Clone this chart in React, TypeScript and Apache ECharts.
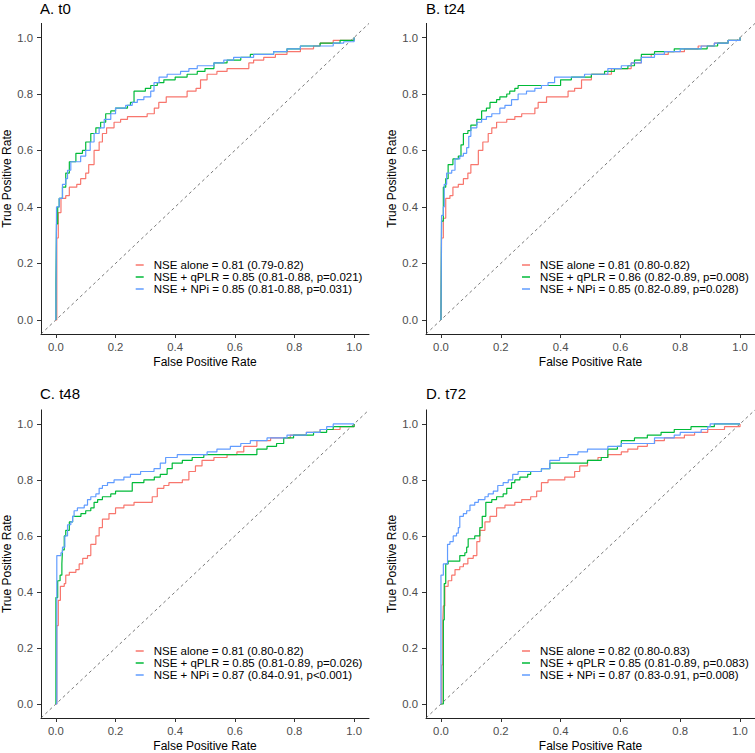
import React, { useEffect, useRef } from "react";
import * as echarts from "echarts";

const FONT = "'Liberation Sans', Arial, Helvetica, sans-serif";
const COLORS = ["#F8766D", "#00BA38", "#619CFF"];
const tickValues = [0, 0.2, 0.4, 0.6, 0.8, 1.0];
const panelTitles = ["A. t0", "B. t24", "C. t48", "D. t72"];
const xAxisTitle = "False Positive Rate";
const yAxisTitle = "True Positive Rate";

const legendA = [
  "NSE alone = 0.81 (0.79-0.82)",
  "NSE + qPLR = 0.85 (0.81-0.88, p=0.021)",
  "NSE + NPi = 0.85 (0.81-0.88, p=0.031)",
];
const legendB = [
  "NSE alone = 0.81 (0.80-0.82)",
  "NSE + qPLR = 0.86 (0.82-0.89, p=0.008)",
  "NSE + NPi = 0.85 (0.82-0.89, p=0.028)",
];
const legendC = [
  "NSE alone = 0.81 (0.80-0.82) ",
  "NSE + qPLR = 0.85 (0.81-0.89, p=0.026)",
  "NSE + NPi = 0.87 (0.84-0.91, p<0.001)",
];
const legendD = [
  "NSE alone = 0.82 (0.80-0.83)",
  "NSE + qPLR = 0.85 (0.81-0.89, p=0.083)",
  "NSE + NPi = 0.87 (0.83-0.91, p=0.008)",
];

// ROC points [FPR, TPR]
const A_alone = [[0,0],[0.003,0.29],[0.008,0.38],[0.017,0.43],[0.033,0.44],[0.045,0.47],[0.07,0.48],[0.083,0.50],[0.10,0.52],[0.11,0.55],[0.128,0.60],[0.145,0.63],[0.156,0.66],[0.17,0.68],[0.195,0.70],[0.217,0.71],[0.24,0.72],[0.306,0.73],[0.33,0.75],[0.345,0.77],[0.37,0.79],[0.42,0.79],[0.44,0.81],[0.47,0.82],[0.485,0.85],[0.507,0.87],[0.54,0.88],[0.574,0.89],[0.63,0.89],[0.647,0.91],[0.663,0.92],[0.697,0.93],[0.736,0.94],[0.775,0.95],[0.82,0.96],[0.864,0.97],[0.886,0.98],[0.93,0.99],[1,1]];
const A_qplr = [[0,0],[0,0.13],[0.002,0.34],[0.006,0.40],[0.011,0.43],[0.022,0.47],[0.033,0.52],[0.045,0.56],[0.067,0.59],[0.089,0.60],[0.10,0.63],[0.117,0.66],[0.134,0.68],[0.15,0.70],[0.167,0.73],[0.184,0.74],[0.2,0.75],[0.24,0.76],[0.25,0.77],[0.262,0.81],[0.30,0.82],[0.318,0.83],[0.34,0.84],[0.362,0.85],[0.40,0.86],[0.44,0.87],[0.474,0.88],[0.50,0.89],[0.53,0.91],[0.574,0.92],[0.62,0.93],[0.652,0.94],[0.73,0.95],[0.775,0.96],[0.82,0.97],[0.886,0.98],[0.953,0.99],[1,1]];
const A_npi = [[0,0],[0.002,0.40],[0.011,0.43],[0.022,0.48],[0.033,0.50],[0.039,0.53],[0.05,0.56],[0.067,0.56],[0.083,0.58],[0.10,0.60],[0.115,0.63],[0.128,0.66],[0.145,0.68],[0.162,0.71],[0.184,0.73],[0.2,0.75],[0.234,0.76],[0.256,0.77],[0.273,0.78],[0.295,0.79],[0.318,0.81],[0.329,0.84],[0.346,0.86],[0.373,0.87],[0.418,0.88],[0.446,0.89],[0.474,0.90],[0.53,0.91],[0.563,0.92],[0.596,0.93],[0.663,0.94],[0.73,0.95],[0.775,0.96],[0.82,0.97],[0.93,0.98],[0.965,0.985],[1,1]];

const B_alone = [[0,0],[0.002,0.29],[0.008,0.36],[0.016,0.43],[0.03,0.44],[0.04,0.47],[0.058,0.48],[0.075,0.50],[0.09,0.52],[0.10,0.55],[0.125,0.60],[0.14,0.63],[0.158,0.66],[0.17,0.68],[0.186,0.70],[0.22,0.71],[0.247,0.72],[0.27,0.73],[0.297,0.73],[0.314,0.75],[0.325,0.77],[0.353,0.79],[0.40,0.79],[0.425,0.81],[0.447,0.82],[0.47,0.85],[0.503,0.87],[0.547,0.87],[0.57,0.89],[0.614,0.89],[0.636,0.91],[0.67,0.93],[0.703,0.94],[0.76,0.95],[0.814,0.96],[0.86,0.97],[0.914,0.98],[0.96,0.99],[1,1]];
const B_qplr = [[0,0],[0.002,0.35],[0.008,0.47],[0.016,0.50],[0.024,0.55],[0.04,0.57],[0.058,0.58],[0.067,0.62],[0.075,0.66],[0.09,0.67],[0.10,0.69],[0.12,0.71],[0.136,0.74],[0.152,0.75],[0.164,0.77],[0.186,0.78],[0.197,0.79],[0.22,0.80],[0.23,0.81],[0.247,0.82],[0.258,0.83],[0.38,0.83],[0.40,0.85],[0.436,0.86],[0.503,0.87],[0.547,0.88],[0.58,0.89],[0.625,0.90],[0.647,0.92],[0.67,0.94],[0.714,0.95],[0.78,0.96],[0.836,0.96],[0.89,0.97],[0.925,0.98],[0.96,0.99],[1,1]];
const B_npi = [[0,0],[0.002,0.37],[0.008,0.40],[0.011,0.48],[0.019,0.52],[0.036,0.53],[0.047,0.57],[0.063,0.58],[0.075,0.59],[0.086,0.61],[0.093,0.65],[0.10,0.68],[0.12,0.70],[0.136,0.71],[0.152,0.72],[0.17,0.73],[0.197,0.75],[0.214,0.76],[0.236,0.78],[0.258,0.80],[0.286,0.81],[0.314,0.82],[0.336,0.83],[0.358,0.84],[0.38,0.86],[0.425,0.86],[0.48,0.87],[0.547,0.87],[0.558,0.89],[0.603,0.90],[0.636,0.91],[0.67,0.93],[0.714,0.94],[0.747,0.95],[0.80,0.96],[0.87,0.97],[0.914,0.98],[0.96,0.99],[1,1]];

const C_alone = [[0,0],[0.003,0.28],[0.008,0.37],[0.015,0.42],[0.028,0.43],[0.033,0.46],[0.045,0.47],[0.067,0.48],[0.078,0.50],[0.09,0.52],[0.106,0.53],[0.117,0.57],[0.134,0.60],[0.145,0.63],[0.156,0.66],[0.178,0.68],[0.20,0.70],[0.228,0.71],[0.262,0.72],[0.30,0.72],[0.323,0.74],[0.34,0.77],[0.362,0.78],[0.379,0.79],[0.424,0.80],[0.446,0.83],[0.468,0.85],[0.49,0.87],[0.53,0.88],[0.574,0.89],[0.607,0.90],[0.63,0.92],[0.674,0.94],[0.72,0.95],[0.786,0.96],[0.84,0.97],[0.886,0.98],[0.953,0.99],[1,1]];
const C_qplr = [[0,0],[0,0.38],[0.006,0.44],[0.014,0.46],[0.02,0.50],[0.022,0.55],[0.028,0.60],[0.033,0.62],[0.045,0.65],[0.056,0.67],[0.084,0.68],[0.10,0.69],[0.117,0.70],[0.128,0.72],[0.14,0.73],[0.156,0.74],[0.184,0.75],[0.20,0.76],[0.25,0.76],[0.256,0.79],[0.295,0.80],[0.33,0.81],[0.35,0.82],[0.373,0.84],[0.39,0.86],[0.424,0.87],[0.457,0.88],[0.496,0.89],[0.62,0.89],[0.674,0.91],[0.708,0.92],[0.74,0.93],[0.764,0.95],[0.797,0.96],[0.864,0.97],[0.908,0.98],[0.93,0.99],[1,1]];
const C_npi = [[0,0],[0.003,0.53],[0.017,0.54],[0.022,0.56],[0.030,0.60],[0.039,0.64],[0.05,0.65],[0.056,0.67],[0.061,0.69],[0.072,0.70],[0.095,0.71],[0.106,0.73],[0.117,0.74],[0.134,0.75],[0.145,0.77],[0.156,0.78],[0.173,0.79],[0.195,0.80],[0.228,0.81],[0.25,0.82],[0.284,0.83],[0.329,0.84],[0.35,0.86],[0.368,0.88],[0.407,0.89],[0.474,0.89],[0.507,0.90],[0.54,0.91],[0.585,0.92],[0.62,0.93],[0.652,0.94],[0.708,0.95],[0.775,0.96],[0.84,0.97],[0.886,0.98],[0.908,0.99],[0.93,1.0],[1,1]];

const D_alone = [[0,0],[0.003,0.14],[0.006,0.29],[0.008,0.35],[0.013,0.42],[0.024,0.44],[0.036,0.46],[0.047,0.48],[0.063,0.49],[0.075,0.50],[0.09,0.52],[0.108,0.53],[0.12,0.58],[0.13,0.62],[0.147,0.65],[0.164,0.67],[0.186,0.70],[0.214,0.71],[0.247,0.72],[0.27,0.73],[0.30,0.74],[0.32,0.76],[0.336,0.79],[0.358,0.80],[0.414,0.81],[0.447,0.83],[0.464,0.85],[0.49,0.87],[0.525,0.88],[0.558,0.89],[0.603,0.90],[0.625,0.91],[0.658,0.92],[0.69,0.93],[0.714,0.94],[0.747,0.95],[0.814,0.96],[0.848,0.97],[0.892,0.98],[0.948,0.99],[1,1]];
const D_qplr = [[0,0],[0.008,0.30],[0.011,0.43],[0.016,0.50],[0.024,0.51],[0.052,0.51],[0.063,0.53],[0.08,0.54],[0.086,0.56],[0.091,0.59],[0.113,0.60],[0.13,0.63],[0.138,0.67],[0.15,0.72],[0.17,0.73],[0.186,0.74],[0.208,0.75],[0.22,0.77],[0.236,0.79],[0.247,0.80],[0.264,0.81],[0.29,0.82],[0.30,0.83],[0.336,0.84],[0.364,0.86],[0.47,0.86],[0.49,0.87],[0.536,0.88],[0.558,0.91],[0.59,0.92],[0.603,0.94],[0.647,0.95],[0.69,0.96],[0.736,0.97],[0.78,0.98],[0.836,0.99],[0.914,1.0],[1,1]];
const D_npi = [[0,0],[0,0.46],[0.008,0.50],[0.019,0.50],[0.022,0.57],[0.03,0.58],[0.041,0.60],[0.052,0.61],[0.058,0.63],[0.063,0.67],[0.075,0.68],[0.086,0.69],[0.097,0.71],[0.113,0.72],[0.125,0.73],[0.147,0.74],[0.158,0.75],[0.175,0.76],[0.19,0.78],[0.208,0.79],[0.225,0.80],[0.24,0.82],[0.258,0.83],[0.314,0.83],[0.336,0.84],[0.358,0.84],[0.364,0.87],[0.397,0.88],[0.425,0.89],[0.458,0.90],[0.49,0.91],[0.558,0.92],[0.603,0.93],[0.70,0.93],[0.714,0.95],[0.78,0.96],[0.80,0.97],[0.87,0.98],[0.892,0.99],[0.90,1.0],[1,1]];

const diagonal = [[-0.05, -0.05], [1.05, 1.05]];

const panels = [
  { legend: legendA, curves: [A_alone, A_qplr, A_npi] },
  { legend: legendB, curves: [B_alone, B_qplr, B_npi] },
  { legend: legendC, curves: [C_alone, C_qplr, C_npi] },
  { legend: legendD, curves: [D_alone, D_qplr, D_npi] },
];

const layout = [
  { left: 40, top: 23.4, width: 329, height: 310.6, titleTop: 0.5, legendLeft: 135.7, legendTop: 259 },
  { left: 426, top: 23.4, width: 329, height: 310.6, titleTop: 0.5, legendLeft: 522, legendTop: 259 },
  { left: 40, top: 409.9, width: 329, height: 310.9, titleTop: 385.5, legendLeft: 135.7, legendTop: 645 },
  { left: 426, top: 409.9, width: 329, height: 310.9, titleTop: 385.5, legendLeft: 522, legendTop: 645 },
];

export default function App() {
  const ref = useRef<HTMLDivElement>(null);
  useEffect(() => {
    if (!ref.current) return;
    const chart = echarts.init(ref.current, null, { renderer: "svg" });
    const axisCommon = {
      type: "value",
      min: -0.05,
      max: 1.05,
      splitLine: { show: false },
      axisLine: { show: true, onZero: false, lineStyle: { color: "#222", width: 1 } },
      axisTick: { show: true, length: 4, customValues: tickValues, lineStyle: { color: "#333", width: 1 } },
      nameLocation: "middle",
      nameTextStyle: { color: "#000", fontSize: 12, fontFamily: FONT },
    };
    const grid: any[] = [];
    const xAxis: any[] = [];
    const yAxis: any[] = [];
    const title: any[] = [];
    const legend: any[] = [];
    const series: any[] = [];
    panels.forEach((p, i) => {
      const L = layout[i];
      grid.push({ left: L.left, top: L.top, width: L.width, height: L.height, containLabel: false });
      xAxis.push({
        ...axisCommon,
        gridIndex: i,
        name: xAxisTitle,
        nameGap: 22,
        axisLabel: {
          customValues: tickValues,
          margin: 7,
          color: "#4D4D4D",
          fontSize: 11.3,
          fontFamily: FONT,
          formatter: (v: number) => v.toFixed(1),
        },
      });
      yAxis.push({
        ...axisCommon,
        gridIndex: i,
        name: yAxisTitle,
        nameGap: 28,
        axisLabel: {
          customValues: tickValues,
          margin: 8,
          color: "#4D4D4D",
          fontSize: 11.3,
          fontFamily: FONT,
          formatter: (v: number) => v.toFixed(1),
        },
      });
      title.push({
        text: panelTitles[i],
        left: L.left,
        top: L.titleTop,
        padding: 0,
        textStyle: { color: "#000", fontSize: 15, fontWeight: "normal", fontFamily: FONT },
      });
      legend.push({
        data: p.legend,
        orient: "vertical",
        left: L.legendLeft,
        top: L.legendTop,
        padding: 0,
        itemGap: 0,
        itemWidth: 8,
        itemHeight: 1.5,
        icon: "rect",
        selectedMode: false,
        textStyle: { color: "#000", fontSize: 11.5, fontFamily: FONT, lineHeight: 11.5, padding: [0, 0, 0, 5] },
      });
      series.push({
        type: "line",
        xAxisIndex: i,
        yAxisIndex: i,
        data: diagonal,
        symbol: "none",
        silent: true,
        lineStyle: { color: "#555", width: 0.8, type: [3, 3] },
        z: 1,
      });
      p.curves.forEach((c, k) => {
        series.push({
          type: "line",
          name: p.legend[k],
          xAxisIndex: i,
          yAxisIndex: i,
          data: c,
          step: "end",
          symbol: "none",
          showSymbol: false,
          silent: true,
          color: COLORS[k],
          lineStyle: { color: COLORS[k], width: 1.2 },
          z: 2 + k,
        });
      });
    });
    chart.setOption({
      animation: false,
      backgroundColor: "#fff",
      textStyle: { fontFamily: FONT },
      grid,
      xAxis,
      yAxis,
      title,
      legend,
      series,
    });
    return () => chart.dispose();
  }, []);
  return (
    <div
      ref={ref}
      style={{ position: "fixed", left: 0, top: 0, width: 755, height: 753, background: "#fff" }}
    />
  );
}
